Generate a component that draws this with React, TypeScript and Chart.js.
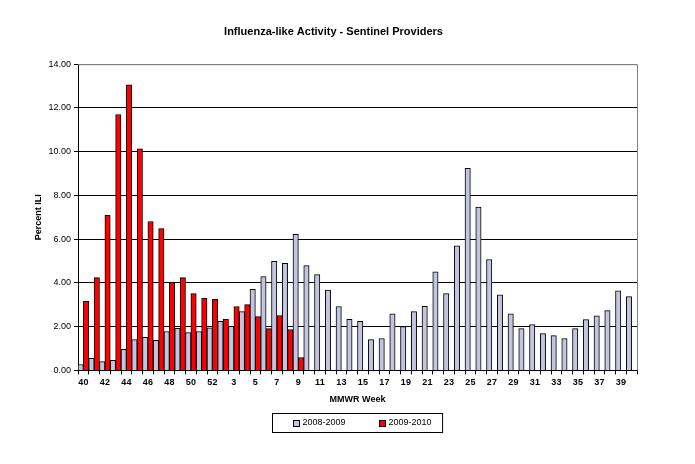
import { useEffect, useRef } from 'react';
import { Chart, registerables } from 'chart.js';

Chart.register(...registerables);

const FONT = 'Arial, "Liberation Sans", sans-serif';

// MMWR weeks (season runs week 40 -> week 40 of next year)
const weeks = [
  '40', '41', '42', '43', '44', '45', '46', '47', '48', '49', '50', '51', '52', '1',
  '3', '4', '5', '6', '7', '8', '9', '10', '11', '12', '13', '14', '15', '16', '17',
  '18', '19', '20', '21', '22', '23', '24', '25', '26', '27', '28', '29', '30', '31',
  '32', '33', '34', '35', '36', '37', '38', '39', '40',
];

const season0809 = [
  0.27, 0.55, 0.40, 0.46, 0.96, 1.41, 1.51, 1.37, 1.78, 1.92, 1.73, 1.78, 1.95, 2.24,
  2.01, 2.69, 3.71, 4.29, 4.99, 4.89, 6.22, 4.79, 4.38, 3.67, 2.92, 2.33, 2.24, 1.41, 1.46,
  2.59, 2.00, 2.69, 2.93, 4.51, 3.51, 5.69, 9.24, 7.47, 5.07, 3.46, 2.59, 1.91, 2.09,
  1.68, 1.59, 1.46, 1.91, 2.32, 2.50, 2.73, 3.64, 3.37,
];

const season0910 = [
  3.16, 4.24, 7.09, 11.70, 13.06, 10.13, 6.81, 6.48, 4.02, 4.24, 3.51, 3.29, 3.25, 2.33,
  2.92, 3.01, 2.46, 1.91, 2.51, 1.87, 0.59,
];

const seriesLabels = ['2008-2009', '2009-2010'];
const seriesColors = ['#C4C4E0', '#FF0000'];

// plot frame: grey top and right edges
const plotFrame = {
  id: 'plotFrame',
  afterDatasetsDraw(chart: any) {
    const { ctx, chartArea } = chart;
    ctx.save();
    ctx.strokeStyle = '#808080';
    ctx.lineWidth = 1;
    ctx.beginPath();
    ctx.moveTo(chartArea.left, chartArea.top + 0.5);
    ctx.lineTo(chartArea.right + 0.5, chartArea.top + 0.5);
    ctx.lineTo(chartArea.right + 0.5, chartArea.bottom);
    ctx.stroke();
    ctx.restore();
  },
};

// Excel-style boxed legend under the axis title
const boxLegend = {
  id: 'boxLegend',
  afterDraw(chart: any) {
    const { ctx, chartArea } = chart;
    const xScale = chart.scales.x;
    const datasets = chart.data.datasets;
    ctx.save();
    ctx.font = `9px ${FONT}`;
    const box = 7;
    const gapText = 3;
    const gapItems = 33;
    const padL = 20;
    const padR = 11;
    const widths = datasets.map((d: any) => box + gapText + ctx.measureText(d.label).width);
    const total = padL + widths.reduce((a: number, b: number) => a + b, 0) + gapItems * (widths.length - 1) + padR;
    const h = 19;
    const left = Math.round((chartArea.left + chartArea.right) / 2 - total / 2) + 0.5;
    const top = Math.round(xScale.bottom + 4) + 0.5;
    ctx.strokeStyle = '#000';
    ctx.lineWidth = 1;
    ctx.strokeRect(left, top, total, h);
    let x = left + padL;
    const cy = top + h / 2;
    datasets.forEach((d: any, i: number) => {
      ctx.fillStyle = d.backgroundColor;
      ctx.fillRect(Math.round(x), Math.round(cy - box / 2), box, box);
      ctx.strokeRect(Math.round(x) + 0.5, Math.round(cy - box / 2) + 0.5, box - 1, box - 1);
      ctx.fillStyle = '#000';
      ctx.textBaseline = 'middle';
      ctx.textAlign = 'left';
      ctx.fillText(d.label, x + box + gapText, cy);
      x += widths[i] + gapItems;
    });
    ctx.restore();
  },
};

export default function App() {
  const canvasRef = useRef<HTMLCanvasElement>(null);
  const chartRef = useRef<Chart | null>(null);

  useEffect(() => {
    if (!canvasRef.current) return;
    if (chartRef.current) chartRef.current.destroy();

    chartRef.current = new Chart(canvasRef.current, {
      type: 'bar',
      data: {
        labels: weeks,
        datasets: [
          {
            label: seriesLabels[0],
            data: season0809,
            backgroundColor: seriesColors[0],
            borderColor: '#000',
            borderWidth: 1,
            categoryPercentage: 1,
            barPercentage: 1,
          },
          {
            label: seriesLabels[1],
            data: season0910,
            backgroundColor: seriesColors[1],
            borderColor: '#000',
            borderWidth: 1,
            categoryPercentage: 1,
            barPercentage: 1,
          },
        ],
      },
      options: {
        responsive: true,
        maintainAspectRatio: false,
        animation: false,
        layout: { padding: { left: 30, right: 58, top: 0, bottom: 55 } },
        plugins: {
          legend: { display: false },
          tooltip: { enabled: false },
          title: {
            display: true,
            text: 'Influenza-like Activity - Sentinel Providers',
            color: '#000',
            font: { family: FONT, size: 11, weight: 'bold' },
            padding: { top: 25, bottom: 26 },
          },
        },
        scales: {
          x: {
            grid: {
              offset: true,
              drawOnChartArea: false,
              color: '#000',
              tickLength: 4,
            },
            border: { color: '#000' },
            ticks: {
              autoSkip: false,
              maxRotation: 0,
              padding: 3,
              color: '#000',
              font: { family: FONT, size: 9, weight: 'bold' },
              callback: (_v: any, i: number) => (i % 2 === 0 ? weeks[i] : ''),
            },
            title: {
              display: true,
              text: 'MMWR Week',
              color: '#000',
              font: { family: FONT, size: 9, weight: 'bold' },
              padding: { top: 3, bottom: 4 },
            },
          },
          y: {
            min: 0,
            max: 14,
            afterFit: (scale: any) => {
              scale.width = 48;
            },
            grid: {
              color: (c: any) => (c.tick && c.tick.value === 14 ? '#808080' : '#000'),
              tickColor: '#000',
              tickLength: 4,
            },
            border: { color: '#000' },
            ticks: {
              stepSize: 2,
              padding: 3,
              color: '#000',
              font: { family: FONT, size: 9 },
              callback: (v: any) => Number(v).toFixed(2),
            },
            title: {
              display: true,
              text: 'Percent ILI',
              color: '#000',
              font: { family: FONT, size: 9, weight: 'bold' },
              padding: { top: 3, bottom: 0 },
            },
          },
        },
      },
      plugins: [plotFrame, boxLegend],
    });

    return () => {
      if (chartRef.current) {
        chartRef.current.destroy();
        chartRef.current = null;
      }
    };
  }, []);

  return (
    <div style={{ position: 'fixed', left: 0, top: 0, width: 695, height: 464, background: '#fff' }}>
      <canvas ref={canvasRef} />
    </div>
  );
}
